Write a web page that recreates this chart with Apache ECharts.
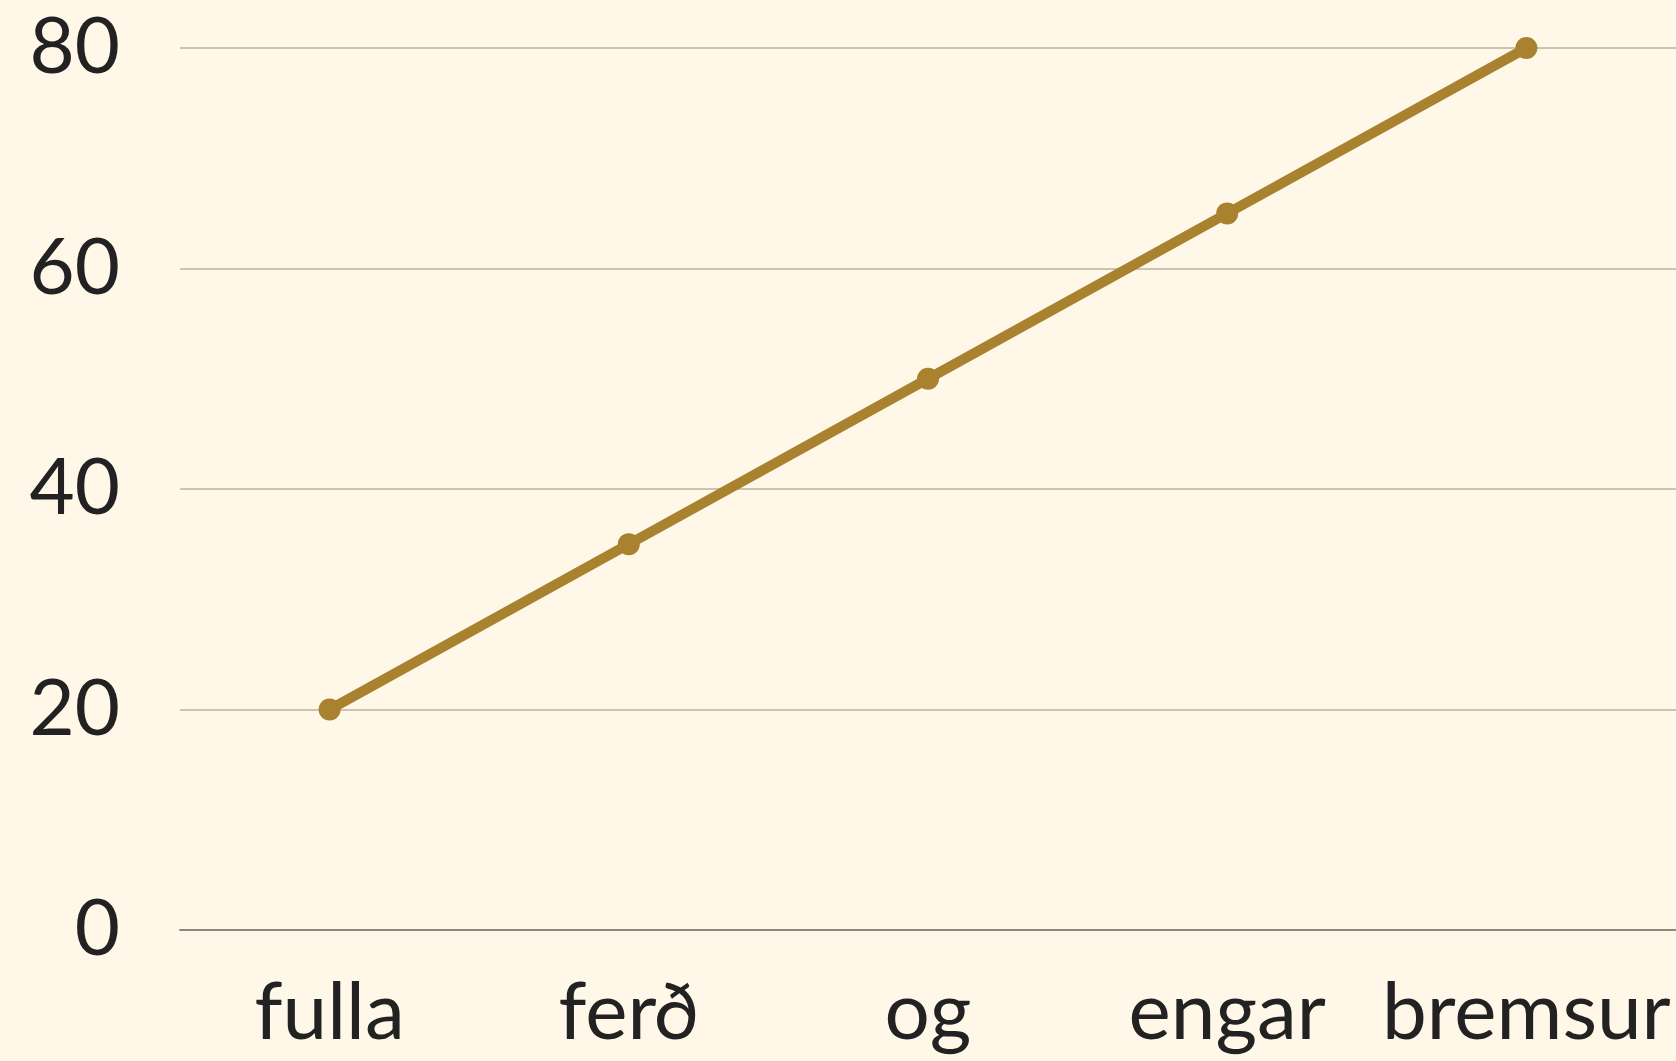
<!DOCTYPE html>
<html>
<head>
<meta charset="utf-8">
<title>fulla ferð og engar bremsur</title>
<script src="https://cdn.jsdelivr.net/npm/echarts@6/dist/echarts.min.js"></script>
<style>
  html, body { margin: 0; padding: 0; background: #fff7e8; }
  #chart { width: 1676px; height: 1061px; }
</style>
</head>
<body>
<div id="chart"></div>
<script>
// data
const words = ['fulla', 'ferð', 'og', 'engar', 'bremsur'];
const values = [20, 35, 50, 65, 80];
const yTicks = [0, 20, 40, 60, 80];

const font = "Futura, 'Century Gothic', Lato, sans-serif";

const chart = echarts.init(document.getElementById('chart'));
chart.setOption({
  backgroundColor: '#fff7e8',
  animation: false,
  grid: { left: 180, right: 0, top: 48, bottom: 131 },
  xAxis: {
    type: 'category',
    data: words,
    boundaryGap: true,
    axisLine: { lineStyle: { color: '#8c887e', width: 2 } },
    axisTick: { show: false },
    axisLabel: {
      color: '#222222',
      fontFamily: font,
      fontSize: 80,
      margin: 43,
      interval: 0,
    },
  },
  yAxis: {
    type: 'value',
    min: yTicks[0],
    max: yTicks[yTicks.length - 1],
    interval: 20,
    axisLine: { show: false },
    axisTick: { show: false },
    splitLine: { lineStyle: { color: '#cbc3b4', width: 2 } },
    axisLabel: {
      color: '#222222',
      fontFamily: font,
      fontSize: 78,
      margin: 60,
    },
  },
  series: [
    {
      type: 'line',
      data: values,
      symbol: 'circle',
      symbolSize: 22,
      lineStyle: { color: '#a8822f', width: 10 },
      itemStyle: { color: '#a8822f' },
    },
  ],
});
</script>
</body>
</html>
